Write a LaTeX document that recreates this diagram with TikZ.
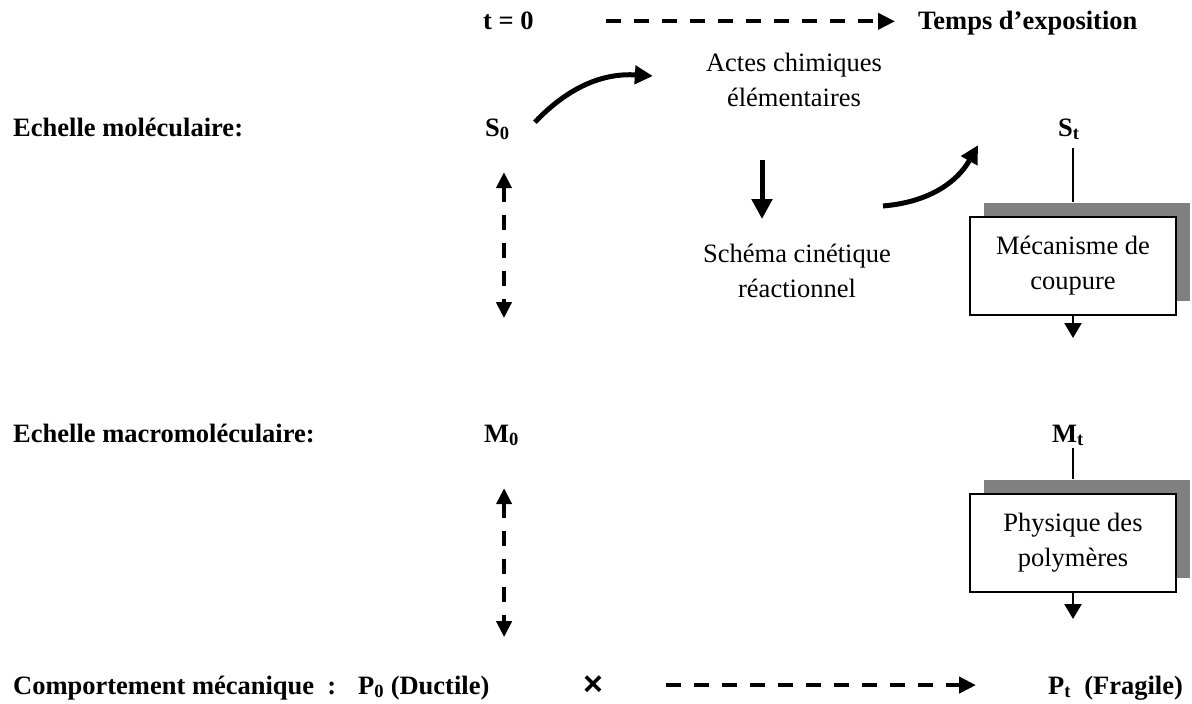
\documentclass[tikz,border=0pt]{standalone}
\usepackage{fontspec}
\setmainfont{Liberation Serif}
\newfontfamily\crossfont{Liberation Sans}
\usetikzlibrary{arrows.meta,shadows,calc}

\newcommand{\diagfont}{\fontsize{26.5pt}{35pt}\selectfont}

\tikzset{
  lbl/.style={inner sep=0pt, anchor=base west, font=\diagfont\bfseries},
  txt/.style={inner sep=0pt, align=center, font=\diagfont},
  boxnode/.style={draw, line width=2pt, fill=white, minimum width=206pt, minimum height=98pt,
    align=center, inner sep=0pt, font=\diagfont,
    general shadow={fill=gray, shadow xshift=14pt, shadow yshift=14pt}},
  dasharrow/.style={line width=4pt, dash pattern=on 15pt off 13pt, -{Triangle[length=17pt,width=16pt]}},
  vdasharrow/.style={line width=4pt, dash pattern=on 15pt off 13pt,
    {Triangle[length=16pt,width=15pt]}-{Triangle[length=16pt,width=15pt]}},
  bigarrow/.style={line width=5pt, -{Triangle[length=18pt,width=18pt]}},
  thinarrow/.style={line width=2.5pt, -{Triangle[length=15pt,width=17pt]}},
}

\begin{document}
\begin{tikzpicture}[x=1pt,y=-1pt]
\useasboundingbox (0,0) rectangle (1192,704);

% time axis
\node[lbl] (t0) at (483,30) {t = 0};
\node[lbl] (temps) at (918,30) {Temps d’exposition};
\draw[dasharrow] ([xshift=72pt]t0.east) -- ([xshift=-23pt]temps.west |- t0.east);

% molecular scale
\node[lbl] (mol) at (13,136) {Echelle moléculaire:};
\node[lbl] (S0) at (485,136) {S\textsubscript{0}};
\node[lbl] (St) at (1058,136) {S\textsubscript{t}};
\node[txt] (actes) at (794,80) {Actes chimiques\\élémentaires};
\node[txt] (schema) at (797,271) {Schéma cinétique\\réactionnel};
\node[boxnode] (coupure) at (1073,266) {Mécanisme de\\coupure};

\draw[bigarrow] ($(S0.east)+(25,-7)$) to[bend left=25] ($(actes.west)+(-53,-4)$);
\draw[line width=5pt, -{Triangle[length=20pt,width=20pt]}]
  ([xshift=-32pt,yshift=-53pt]actes.south) -- ++(0,59);
\draw[bigarrow] ($(schema.north)+(86,-38)$) to[bend right=28] ($(St.west)+(-80,16)$);
\draw[line width=2.5pt, shorten <=8pt] (St.south -| coupure.north) -- ([yshift=14pt]coupure.north);
\draw[thinarrow] (coupure.south) -- ++(0,22);
\draw[vdasharrow] ($(S0.south)+(6.5,32)$) -- ++(0,146);

% macromolecular scale
\node[lbl] (macro) at (13,442) {Echelle macromoléculaire:};
\node[lbl] (M0) at (484,442) {M\textsubscript{0}};
\node[lbl] (Mt) at (1052,442) {M\textsubscript{t}};
\node[boxnode] (polym) at (1073,543) {Physique des\\polymères};

\draw[line width=2.5pt, shorten <=2pt] (Mt.south -| polym.north) -- ([yshift=14pt]polym.north);
\draw[thinarrow] (polym.south) -- ++(0,26);
\draw[vdasharrow] ($(M0.south)+(2.5,42)$) -- ++(0,149);

% mechanical behaviour
\node[lbl] (comp) at (13,694) {Comportement mécanique\ \ :};
\node[lbl] (P0) at (358,694) {P\textsubscript{0} (Ductile)};
\node[lbl, font=\fontsize{34pt}{40pt}\selectfont\crossfont\bfseries] (cross) at (583,695) {×};
\node[lbl] (Pt) at (1048,694) {P\textsubscript{t}\ \ (Fragile)};
\draw[dasharrow, shorten <=63pt, shorten >=72pt] (cross.east) -- (cross.east -| Pt.west);
\end{tikzpicture}
\end{document}
